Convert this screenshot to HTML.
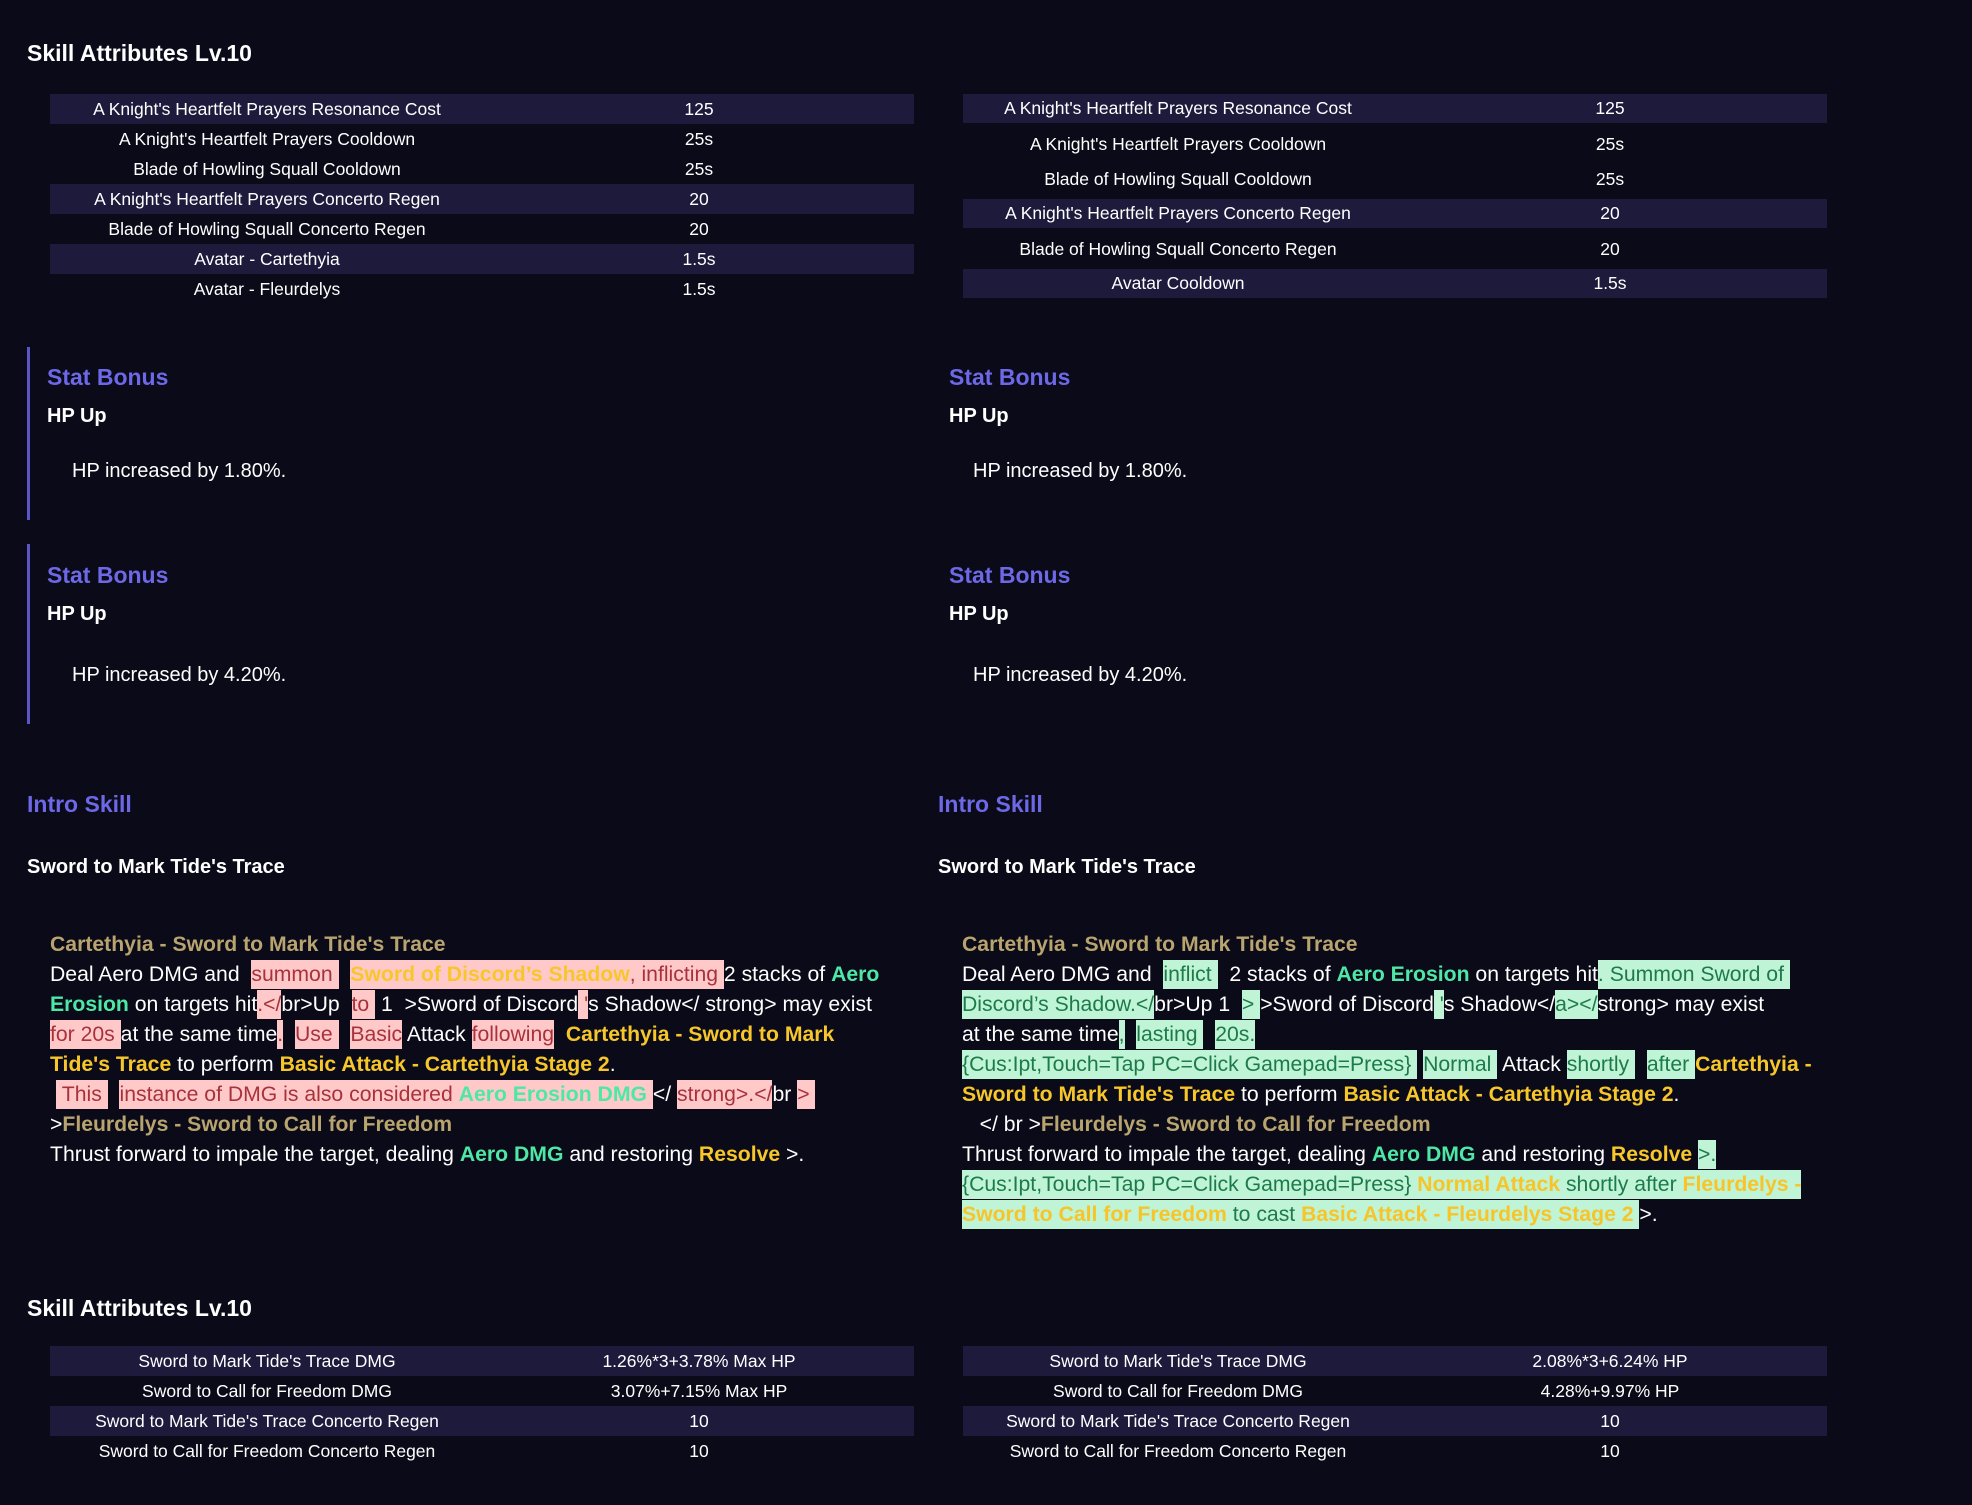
<!DOCTYPE html>
<html><head><meta charset="utf-8"><style>
*{margin:0;padding:0;box-sizing:border-box}
body{width:1972px;height:1505px;background:#0b0a18;font-family:"Liberation Sans",sans-serif;color:#fff;position:relative;overflow:hidden}
.a{position:absolute;white-space:nowrap}
.h1{font-size:23px;font-weight:bold}
.tbl{position:absolute}
.row{position:absolute;left:0;height:30px;font-size:17.5px;line-height:30px}
.row.b{background:#1d1a3c}
.row span{position:absolute;transform:translateX(-50%)}
.sb{font-size:23px;font-weight:bold;color:#6d68e6}
.hp{font-size:20px;font-weight:bold}
.tx{font-size:20px}
.bar{position:absolute;left:27px;width:3px;background:#5b56c8}
.d{position:absolute;font-size:21.2px;line-height:30px;white-space:nowrap}
.t{color:#b8a46e;font-weight:bold}
.y{color:#f7c72a;font-weight:bold}
.g{color:#4ee8a6;font-weight:bold}
.p{background:#ffc9c9;color:#a8323c;padding:3px 0}
.p .y{color:#f8c62a}
.q{background:#bff5d6;color:#1e7a4a;padding:3px 0}
.q .y{color:#f7c42a}
</style></head><body>
<div class="a h1" style="left:27px;top:40px">Skill Attributes Lv.10</div>

<div class="tbl" style="left:50px;top:94px;width:864px">
<div class="row b" style="top:0;width:864px"><span style="left:217px">A Knight's Heartfelt Prayers Resonance Cost</span><span style="left:649px">125</span></div>
<div class="row" style="top:30px;width:864px"><span style="left:217px">A Knight's Heartfelt Prayers Cooldown</span><span style="left:649px">25s</span></div>
<div class="row" style="top:60px;width:864px"><span style="left:217px">Blade of Howling Squall Cooldown</span><span style="left:649px">25s</span></div>
<div class="row b" style="top:90px;width:864px"><span style="left:217px">A Knight's Heartfelt Prayers Concerto Regen</span><span style="left:649px">20</span></div>
<div class="row" style="top:120px;width:864px"><span style="left:217px">Blade of Howling Squall Concerto Regen</span><span style="left:649px">20</span></div>
<div class="row b" style="top:150px;width:864px"><span style="left:217px">Avatar - Cartethyia</span><span style="left:649px">1.5s</span></div>
<div class="row" style="top:180px;width:864px"><span style="left:217px">Avatar - Fleurdelys</span><span style="left:649px">1.5s</span></div>
</div>

<div class="tbl" style="left:963px;top:94px;width:864px">
<div class="row b" style="top:0;height:29px;width:864px;line-height:29px"><span style="left:215px">A Knight's Heartfelt Prayers Resonance Cost</span><span style="left:647px">125</span></div>
<div class="row" style="top:35px;width:864px"><span style="left:215px">A Knight's Heartfelt Prayers Cooldown</span><span style="left:647px">25s</span></div>
<div class="row" style="top:70px;width:864px"><span style="left:215px">Blade of Howling Squall Cooldown</span><span style="left:647px">25s</span></div>
<div class="row b" style="top:105px;height:29px;line-height:29px;width:864px"><span style="left:215px">A Knight's Heartfelt Prayers Concerto Regen</span><span style="left:647px">20</span></div>
<div class="row" style="top:140px;width:864px"><span style="left:215px">Blade of Howling Squall Concerto Regen</span><span style="left:647px">20</span></div>
<div class="row b" style="top:175px;height:29px;line-height:29px;width:864px"><span style="left:215px">Avatar Cooldown</span><span style="left:647px">1.5s</span></div>
</div>

<div class="bar" style="top:347px;height:173px"></div>
<div class="a sb" style="left:47px;top:364px">Stat Bonus</div>
<div class="a hp" style="left:47px;top:405px">HP Up</div>
<div class="a tx" style="left:72px;top:460px">HP increased by 1.80%.</div>
<div class="a sb" style="left:949px;top:364px">Stat Bonus</div>
<div class="a hp" style="left:949px;top:405px">HP Up</div>
<div class="a tx" style="left:973px;top:460px">HP increased by 1.80%.</div>

<div class="bar" style="top:544px;height:180px"></div>
<div class="a sb" style="left:47px;top:562px">Stat Bonus</div>
<div class="a hp" style="left:47px;top:603px">HP Up</div>
<div class="a tx" style="left:72px;top:664px">HP increased by 4.20%.</div>
<div class="a sb" style="left:949px;top:562px">Stat Bonus</div>
<div class="a hp" style="left:949px;top:603px">HP Up</div>
<div class="a tx" style="left:973px;top:664px">HP increased by 4.20%.</div>

<div class="a sb" style="left:27px;top:791px">Intro Skill</div>
<div class="a hp" style="left:27px;top:856px">Sword to Mark Tide's Trace</div>
<div class="a sb" style="left:938px;top:791px">Intro Skill</div>
<div class="a hp" style="left:938px;top:856px">Sword to Mark Tide's Trace</div>

<div class="d" style="left:50px;top:930px">
<span class="t">Cartethyia - Sword to Mark Tide's Trace</span><br>
Deal Aero DMG and &nbsp;<span class="p">summon&nbsp;</span>&nbsp; <span class="p"><span class="y">Sword of Discord’s Shadow</span>, inflicting&nbsp;</span>2 stacks of <span class="g">Aero</span><br>
<span class="g">Erosion</span> on targets hit<span class="p">.&lt;/</span>br&gt;Up &nbsp;<span class="p">to&nbsp;</span> 1 &nbsp;&gt;Sword of Discord<span class="p">&nbsp;'</span>s Shadow&lt;/ strong&gt; may exist<br>
<span class="p">for 20s&nbsp;</span>at the same time<span class="p">.</span>&nbsp; <span class="p">Use&nbsp;</span>&nbsp; <span class="p">Basic</span> Attack <span class="p">following</span>&nbsp; <span class="y">Cartethyia - Sword to Mark</span><br>
<span class="y">Tide's Trace</span> to perform <span class="y">Basic Attack - Cartethyia Stage 2</span>.<br>
&nbsp;<span class="p">&nbsp;This&nbsp;</span>&nbsp; <span class="p">instance of DMG is also considered <span class="g">Aero Erosion DMG</span>&nbsp;</span>&lt;/ <span class="p">strong&gt;.&lt;/</span>br <span class="p">&gt;&nbsp;</span><br>
&gt;<span class="t">Fleurdelys - Sword to Call for Freedom</span><br>
Thrust forward to impale the target, dealing <span class="g">Aero DMG</span> and restoring <span class="y">Resolve</span> &gt;.
</div>

<div class="d" style="left:962px;top:930px">
<span class="t">Cartethyia - Sword to Mark Tide's Trace</span><br>
Deal Aero DMG and&nbsp; <span class="q">inflict&nbsp;</span>&nbsp; 2 stacks of <span class="g">Aero Erosion</span> on targets hit<span class="q">. Summon Sword of&nbsp;</span><br>
<span class="q">Discord’s Shadow.&lt;/</span>br&gt;Up 1 &nbsp;<span class="q">&gt;&nbsp;</span>&gt;Sword of Discord<span class="q">&nbsp;'</span>s Shadow&lt;/<span class="q">a&gt;&lt;/</span>strong&gt; may exist<br>
at the same time<span class="q">,</span>&nbsp; <span class="q">lasting&nbsp;</span>&nbsp; <span class="q">20s.</span><br>
<span class="q">{Cus:Ipt,Touch=Tap PC=Click Gamepad=Press}&nbsp;</span> <span class="q">Normal&nbsp;</span> Attack <span class="q">shortly&nbsp;</span>&nbsp; <span class="q">after&nbsp;</span><span class="y">Cartethyia -</span><br>
<span class="y">Sword to Mark Tide's Trace</span> to perform <span class="y">Basic Attack - Cartethyia Stage 2</span>.<br>
&nbsp;&nbsp;&nbsp;&lt;/ br &gt;<span class="t">Fleurdelys - Sword to Call for Freedom</span><br>
Thrust forward to impale the target, dealing <span class="g">Aero DMG</span> and restoring <span class="y">Resolve</span> <span class="q">&gt;.</span><br>
<span class="q">{Cus:Ipt,Touch=Tap PC=Click Gamepad=Press} <span class="y">Normal Attack</span> shortly after <span class="y">Fleurdelys - </span></span><br>
<span class="q"><span class="y">Sword to Call for Freedom</span> to cast <span class="y">Basic Attack - Fleurdelys Stage 2</span> </span>&gt;.
</div>

<div class="a h1" style="left:27px;top:1295px">Skill Attributes Lv.10</div>

<div class="tbl" style="left:50px;top:1346px;width:864px">
<div class="row b" style="top:0;width:864px"><span style="left:217px">Sword to Mark Tide's Trace DMG</span><span style="left:649px">1.26%*3+3.78% Max HP</span></div>
<div class="row" style="top:30px;width:864px"><span style="left:217px">Sword to Call for Freedom DMG</span><span style="left:649px">3.07%+7.15% Max HP</span></div>
<div class="row b" style="top:60px;width:864px"><span style="left:217px">Sword to Mark Tide's Trace Concerto Regen</span><span style="left:649px">10</span></div>
<div class="row" style="top:90px;width:864px"><span style="left:217px">Sword to Call for Freedom Concerto Regen</span><span style="left:649px">10</span></div>
</div>

<div class="tbl" style="left:963px;top:1346px;width:864px">
<div class="row b" style="top:0;width:864px"><span style="left:215px">Sword to Mark Tide's Trace DMG</span><span style="left:647px">2.08%*3+6.24% HP</span></div>
<div class="row" style="top:30px;width:864px"><span style="left:215px">Sword to Call for Freedom DMG</span><span style="left:647px">4.28%+9.97% HP</span></div>
<div class="row b" style="top:60px;width:864px"><span style="left:215px">Sword to Mark Tide's Trace Concerto Regen</span><span style="left:647px">10</span></div>
<div class="row" style="top:90px;width:864px"><span style="left:215px">Sword to Call for Freedom Concerto Regen</span><span style="left:647px">10</span></div>
</div>
</body></html>
